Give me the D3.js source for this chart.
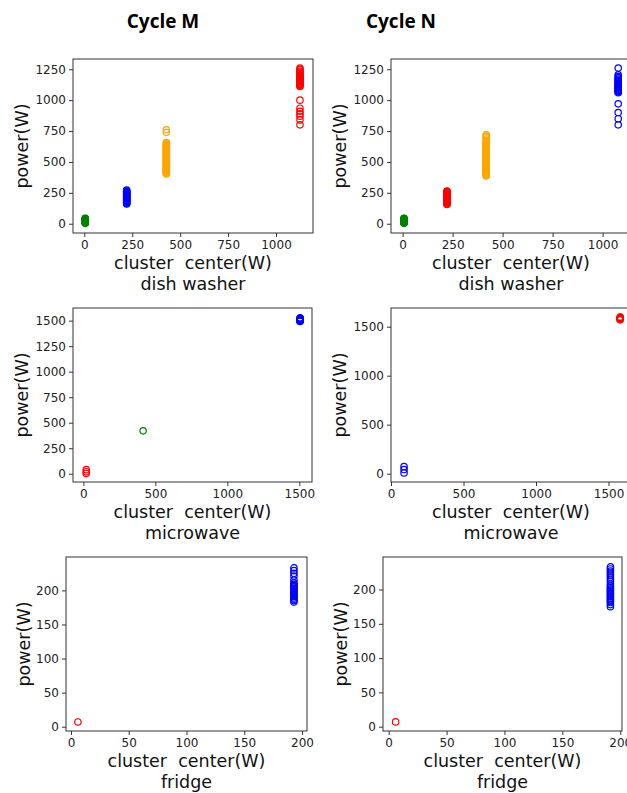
<!DOCTYPE html>
<html>
<head>
<meta charset="utf-8">
<script src="https://cdn.jsdelivr.net/npm/d3@7"></script>
<style>
  html, body { margin: 0; padding: 0; background: #fff; overflow: hidden; }
</style>
</head>
<body>
<div id="chart"></div>
<script>
// column titles
const cycleTitles = ['Cycle M', 'Cycle N'];
const applianceNames = ['dish washer', 'microwave', 'fridge'];

// dish washer, cycle M: cluster centers and the power of each sample
const dishM_centers = [5, 221, 428, 1125];
const dishM_power = [
  [3, 6, 9, 12, 15, 18, 21, 24, 27, 30, 33, 36, 39, 42, 44],
  [160, 165, 170, 175, 180, 185, 190, 195, 200, 205, 210, 215, 220, 225, 230, 235, 240,
   245, 250, 255, 260, 265, 273],
  [402, 408, 414, 420, 426, 432, 438, 444, 450, 456, 462, 468, 474, 480, 486, 492, 498,
   504, 510, 516, 522, 528, 534, 540, 546, 552, 558, 564, 570, 576, 582, 588, 594, 600,
   606, 612, 618, 624, 630, 636, 642, 650, 657, 740, 760],
  [800, 840, 870, 890, 910, 935, 1000, 1110, 1116, 1122, 1128, 1134, 1140, 1146, 1152,
   1158, 1164, 1170, 1176, 1182, 1188, 1194, 1200, 1206, 1215, 1225, 1235, 1250, 1260]
];

// dish washer, cycle N
const dishN_centers = [7, 222, 418, 1078];
const dishN_power = [
  [3, 6, 9, 12, 15, 18, 21, 24, 27, 30, 33, 36, 39, 42, 44],
  [156, 161, 166, 171, 176, 181, 186, 191, 196, 201, 206, 211, 216, 221, 226, 231, 236,
   241, 246, 251, 256, 261, 265],
  [386, 392, 398, 404, 410, 416, 422, 428, 434, 440, 446, 452, 458, 464, 470, 476, 482,
   488, 494, 500, 506, 512, 518, 524, 530, 536, 542, 548, 554, 560, 566, 572, 578, 584,
   590, 596, 602, 608, 614, 620, 626, 634, 642, 650, 658, 666, 676, 686, 700, 710, 720],
  [800, 850, 900, 970, 1060, 1066, 1072, 1078, 1084, 1090, 1096, 1102, 1108, 1114, 1120,
   1126, 1132, 1140, 1150, 1160, 1170, 1180, 1190, 1205, 1260]
];

// microwave
const microM_centers = [20, 415, 1505];
const microM_power = [[3, 20, 40], [420], [1492, 1496, 1500, 1504, 1508, 1512, 1516, 1520, 1524, 1528]];
const microN_centers = [90, 1580];
const microN_power = [[8, 42, 72], [1570, 1576, 1582, 1588, 1594, 1600]];

// fridge
const fridgeM_centers = [6, 193];
const fridgeM_power = [
  [7],
  [183, 185, 187, 189, 191, 193, 195, 197, 199, 201, 203, 205, 207, 209, 211, 215, 221,
   225, 229, 233]
];
const fridgeN_centers = [6, 191.5];
const fridgeN_power = [
  [7],
  [175, 178, 181, 183, 185, 187, 189, 191, 193, 195, 197, 199, 201, 203, 205, 208, 212,
   215, 218, 221, 224, 227, 230, 233]
];

// tick labels
const dishYTicks = [0, 250, 500, 750, 1000, 1250];
const dishXTicks = [0, 250, 500, 750, 1000];
const microYTicksM = [0, 250, 500, 750, 1000, 1250, 1500];
const microYTicksN = [0, 500, 1000, 1500];
const microXTicks = [0, 500, 1000, 1500];
const fridgeTicks = [0, 50, 100, 150, 200];

const width = 627;
const height = 793;

// one entry per subplot: where it sits and what it shows
const panels = [
  { centers: dishM_centers, power: dishM_power, colors: ['green', 'blue', 'orange', 'red'],
    left: 73, top: 59, w: 240, h: 174, xDom: [-59, 1193], yDom: [-75, 1333],
    xTicks: dishXTicks, yTicks: dishYTicks, name: applianceNames[0], labelOff: 45 },
  { centers: dishN_centers, power: dishN_power, colors: ['green', 'red', 'orange', 'blue'],
    left: 391, top: 59, w: 240, h: 174, xDom: [-58, 1142], yDom: [-75, 1333],
    xTicks: dishXTicks, yTicks: dishYTicks, name: applianceNames[0], labelOff: 45 },
  { centers: microM_centers, power: microM_power, colors: ['red', 'green', 'blue'],
    left: 73, top: 308, w: 239, h: 174, xDom: [-72, 1588], yDom: [-81, 1624],
    xTicks: microXTicks, yTicks: microYTicksM, name: applianceNames[1], labelOff: 45 },
  { centers: microN_centers, power: microN_power, colors: ['blue', 'red'],
    left: 391, top: 308, w: 240, h: 174, xDom: [0, 1655], yDom: [-85, 1691],
    xTicks: microXTicks, yTicks: microYTicksN, name: applianceNames[1], labelOff: 45 },
  { centers: fridgeM_centers, power: fridgeM_power, colors: ['red', 'blue'],
    left: 66, top: 557, w: 241, h: 174, xDom: [-4.3, 204.3], yDom: [-6.3, 249],
    xTicks: fridgeTicks, yTicks: fridgeTicks, name: applianceNames[2], labelOff: 36 },
  { centers: fridgeN_centers, power: fridgeN_power, colors: ['red', 'blue'],
    left: 383, top: 557, w: 239, h: 174, xDom: [-4.9, 201.5], yDom: [-6.3, 247.4],
    xTicks: fridgeTicks, yTicks: fridgeTicks, name: applianceNames[2], labelOff: 36 }
];

const svg = d3.select('#chart')
  .append('svg')
  .attr('width', width)
  .attr('height', height);

// column headings
svg.selectAll('text.title')
  .data(cycleTitles)
  .enter()
  .append('text')
  .attr('class', 'title')
  .attr('x', (d, i) => [163, 401][i])
  .attr('y', 28)
  .attr('text-anchor', 'middle')
  .style('font-family', 'Open Sans, sans-serif')
  .style('font-weight', 700)
  .style('font-size', '19px')
  .style('fill', '#000')
  .text(d => d);

const fmt = d3.format('d');

panels.forEach(p => {
  const g = svg.append('g')
    .attr('transform', `translate(${p.left}, ${p.top})`);

  const x = d3.scaleLinear().domain(p.xDom).range([0, p.w]);
  const y = d3.scaleLinear().domain(p.yDom).range([p.h, 0]);

  const xAxis = g.append('g')
    .attr('transform', `translate(0, ${p.h})`)
    .call(d3.axisBottom(x).tickValues(p.xTicks).tickFormat(fmt)
      .tickSize(4).tickSizeOuter(0).tickPadding(3));
  const yAxis = g.append('g')
    .call(d3.axisLeft(y).tickValues(p.yTicks).tickFormat(fmt)
      .tickSize(4).tickSizeOuter(0).tickPadding(3));

  [xAxis, yAxis].forEach(a => {
    a.select('.domain').remove();
    a.selectAll('line').attr('stroke', '#333');
    a.selectAll('text')
      .style('font-family', 'DejaVu Sans, sans-serif')
      .style('font-size', '12px')
      .style('fill', '#222');
  });

  // frame
  g.append('rect')
    .attr('width', p.w)
    .attr('height', p.h)
    .attr('fill', 'none')
    .attr('stroke', '#333')
    .attr('stroke-width', 1);

  // flatten clusters into points
  const pts = [];
  p.centers.forEach((c, i) => {
    p.power[i].forEach(v => pts.push({ cx: c, v: v, color: p.colors[i] }));
  });

  g.selectAll('circle')
    .data(pts)
    .enter()
    .append('circle')
    .attr('cx', d => x(d.cx))
    .attr('cy', d => y(d.v))
    .attr('r', 3.2)
    .attr('fill', 'none')
    .attr('stroke', d => d.color)
    .attr('stroke-width', 1.2);

  // axis labels
  g.append('text')
    .attr('x', p.w / 2)
    .attr('y', p.h + 36)
    .attr('text-anchor', 'middle')
    .style('white-space', 'pre')
    .style('font-family', 'DejaVu Sans, sans-serif')
    .style('font-size', '17.5px')
    .style('fill', '#111')
    .text('cluster  center(W)');

  g.append('text')
    .attr('x', p.w / 2)
    .attr('y', p.h + 57)
    .attr('text-anchor', 'middle')
    .style('font-family', 'DejaVu Sans, sans-serif')
    .style('font-size', '17.5px')
    .style('fill', '#111')
    .text(p.name);

  g.append('text')
    .attr('transform', `translate(${-p.labelOff}, ${p.h / 2}) rotate(-90)`)
    .attr('text-anchor', 'middle')
    .style('font-family', 'DejaVu Sans, sans-serif')
    .style('font-size', '17.5px')
    .style('fill', '#111')
    .text('power(W)');
});
</script>
</body>
</html>
